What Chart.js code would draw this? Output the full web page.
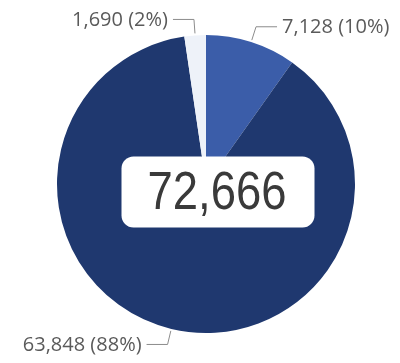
<!DOCTYPE html>
<html>
<head>
<meta charset="utf-8">
<script src="https://cdn.jsdelivr.net/npm/chart.js@4/dist/chart.umd.min.js"></script>
<style>
  html, body { margin: 0; padding: 0; background: #fff; }
  #wrap { width: 400px; height: 363px; }
</style>
</head>
<body>
<div id="wrap"><canvas id="myChart"></canvas></div>
<script>
const segments = ['Segment A', 'Segment B', 'Segment C'];
const counts = [7128, 63848, 1690];
const sliceColors = ['#3b5da9', '#1f386f', '#eef2f9'];

const total = counts.reduce((a, b) => a + b, 0);
const fmt = n => n.toLocaleString('en-US');

// leader lines + "value (pct%)" text outside each slice
const outsideLabels = {
    id: 'outsideLabels',
    afterDatasetsDraw(chart) {
        const ctx = chart.ctx;
        const arcs = chart.getDatasetMeta(0).data;
        ctx.save();
        ctx.font = '20px "Open Sans", sans-serif';
        ctx.textBaseline = 'middle';
        arcs.forEach((arc, i) => {
            const mid = (arc.startAngle + arc.endAngle) / 2;
            const r = arc.outerRadius;
            const cos = Math.cos(mid), sin = Math.sin(mid);
            const x0 = arc.x + cos * (r + 2), y0 = arc.y + sin * (r + 2);
            const x1 = arc.x + cos * (r + 16), y1 = arc.y + sin * (r + 16);
            const dir = cos >= 0 ? 1 : -1;
            const x2 = x1 + dir * 21;

            ctx.strokeStyle = '#8c8c8c';
            ctx.lineWidth = 1;
            ctx.beginPath();
            ctx.moveTo(x0, y0);
            ctx.lineTo(x1, y1);
            ctx.lineTo(x2, y1);
            ctx.stroke();

            const pct = Math.round(counts[i] / total * 100);
            ctx.fillStyle = '#5a5a5a';
            ctx.textAlign = dir > 0 ? 'left' : 'right';
            ctx.fillText(fmt(counts[i]) + ' (' + pct + '%)', x2 + dir * 5, y1 + 1);
        });
        ctx.restore();
    }
};

// white rounded box with the total in the middle
const totalBox = {
    id: 'totalBox',
    afterDatasetsDraw(chart) {
        const ctx = chart.ctx;
        const arc = chart.getDatasetMeta(0).data[0];
        const cx = arc.x + 12, cy = arc.y + 8;
        const w = 193, h = 71;
        ctx.save();
        ctx.fillStyle = '#ffffff';
        ctx.beginPath();
        ctx.roundRect(cx - w / 2, cy - h / 2, w, h, 12);
        ctx.fill();
        ctx.fillStyle = '#3a3a3a';
        ctx.font = '53px "Liberation Sans", sans-serif';
        ctx.textAlign = 'center';
        ctx.textBaseline = 'middle';
        // squeeze the number horizontally so it reads condensed
        const txt = fmt(total);
        const sx = 139 / ctx.measureText(txt).width;
        ctx.translate(cx - 1, cy + 2);
        ctx.scale(sx, 1);
        ctx.fillText(txt, 0, 0);
        ctx.restore();
    }
};

new Chart(document.querySelector('#myChart'), {
    type: 'pie',
    data: {
        labels: segments,
        datasets: [{
            data: counts,
            backgroundColor: sliceColors,
            borderWidth: 0,
        }]
    },
    options: {
        responsive: true,
        maintainAspectRatio: false,
        animation: false,
        layout: { padding: { top: 35, bottom: 30, left: 57, right: 45 } },
        plugins: {
            legend: { display: false },
            tooltip: { enabled: false },
        }
    },
    plugins: [outsideLabels, totalBox]
});
</script>
</body>
</html>
